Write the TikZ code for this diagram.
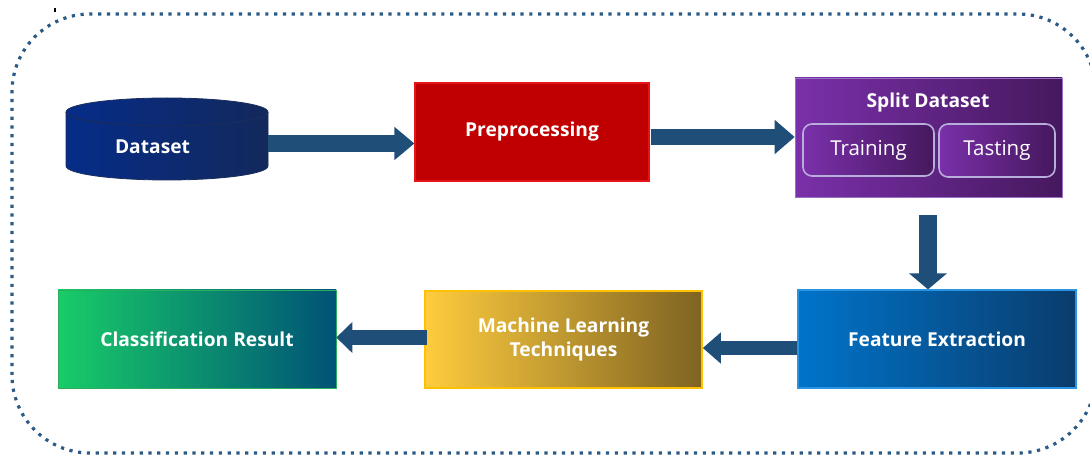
\documentclass[tikz,border=0pt]{standalone}
\usepackage{fontspec}
\setmainfont{Open Sans}
\usetikzlibrary{arrows.meta}

\definecolor{arrowblue}{HTML}{1F4E79}
\definecolor{frameblue}{HTML}{2B5A86}
\definecolor{dsleft}{HTML}{062C88}
\definecolor{dsright}{HTML}{13295C}
\definecolor{dsedge}{HTML}{1B2D5C}
\definecolor{prered}{HTML}{C00000}
\definecolor{preedge}{HTML}{E51515}
\definecolor{purpleleft}{HTML}{7A30AA}
\definecolor{purpleright}{HTML}{46185E}
\definecolor{purpleedge}{HTML}{9A70C4}
\definecolor{lavender}{HTML}{B8AEDC}
\definecolor{feleft}{HTML}{0074CA}
\definecolor{feright}{HTML}{0A3C6C}
\definecolor{feedge}{HTML}{2A93E2}
\definecolor{mlleft}{HTML}{FFCC3E}
\definecolor{mlright}{HTML}{7E6322}
\definecolor{mledge}{HTML}{FFC000}
\definecolor{crleft}{HTML}{18CC68}
\definecolor{crright}{HTML}{005276}
\definecolor{credge}{HTML}{2AAE5A}

\tikzset{
  boldtext/.style={text=white, font=\fontsize{19.2}{24}\selectfont\bfseries},
  stepbox/.style={rectangle, inner sep=0pt, align=center, boldtext, line width=1.2pt},
  subbox/.style={rectangle, rounded corners=9pt, inner sep=0pt, text=white,
    font=\fontsize{20.5}{24}\selectfont, draw=lavender, line width=1.6pt,
    left color=purpleleft, right color=purpleright},
  bigarrow/.style={draw=arrowblue, line width=#1}
}

\begin{document}
\begin{tikzpicture}[x=1pt,y=1pt]
\useasboundingbox (0,0) rectangle (1090,455);
\clip (0,0) rectangle (1090,455);

% surrounding dotted frame
\draw[frameblue, line width=3.2pt, dash pattern=on 3.2pt off 5.6pt, rounded corners=78pt]
  (12,2) rectangle (1096,441);
\draw[black, line width=1.4pt] (55,443) -- (55,447);

% dataset cylinder
\node[rectangle, minimum width=202pt, minimum height=82pt, inner sep=0pt] (ds) at (167,316) {};
\shade[left color=dsleft, right color=dsright, draw=dsedge, line width=0.8pt]
  (66,343) -- (66,289) arc[start angle=180, end angle=360, x radius=101, y radius=14]
  -- (268,343) arc[start angle=0, end angle=180, x radius=101, y radius=14] -- cycle;
\draw[dsedge, line width=1pt] (66,343) arc[start angle=180, end angle=360, x radius=101, y radius=14];
\node[boldtext] (dslabel) at (152.5,308) {Dataset};

% process steps
\node[stepbox, minimum width=234pt, minimum height=98pt, fill=prered, draw=preedge]
  (pre) at (532,323) {Preprocessing};

\node[stepbox, minimum width=267pt, minimum height=119pt, left color=purpleleft,
  right color=purpleright, draw=purpleedge, line width=0.6pt] (split) at (928.5,317.5) {};
\node[boldtext] (splittitle) at (928,352) {Split Dataset};
\node[subbox, minimum width=131pt, minimum height=52pt] (train) at (868.5,305) {Training};
\node[subbox, minimum width=116pt, minimum height=53pt] (test) at (997,304.5) {Tasting};

\node[stepbox, minimum width=278pt, minimum height=98pt, left color=feleft,
  right color=feright, draw=feedge] (fe) at (937,116) {Feature Extraction};

\node[stepbox, minimum width=277pt, minimum height=97pt, left color=mlleft,
  right color=mlright, draw=mledge, line width=1.6pt] (ml) at (563.5,115.5)
  {Machine Learning\\Techniques};

\node[stepbox, minimum width=278pt, minimum height=98pt, left color=crleft,
  right color=crright, draw=credge, line width=0.6pt] (cr) at (197,116) {Classification Result};

% connectors
\draw[bigarrow=17pt, -{Triangle[length=20pt,width=32pt]}]
  (ds.east |- 0,311.5) -- (pre.west |- 0,311.5);
\draw[bigarrow=16pt, -{Triangle[length=20pt,width=33pt]}]
  ([xshift=1.5pt]pre.east |- 0,318) -- (split.west |- 0,318);
\draw[bigarrow=18pt, -{Triangle[length=16pt,width=37pt]}]
  (split.south -| 928,0) ++(0,-18) -- (fe.north -| 928,0);
\draw[bigarrow=14pt, -{Triangle[length=18pt,width=30pt]}]
  (fe.west |- 0,107) -- (ml.east |- 0,107);
\draw[bigarrow=15pt, -{Triangle[length=16pt,width=30pt]}]
  ([xshift=3pt]ml.west |- 0,117.5) -- (cr.east |- 0,117.5);
\end{tikzpicture}
\end{document}
